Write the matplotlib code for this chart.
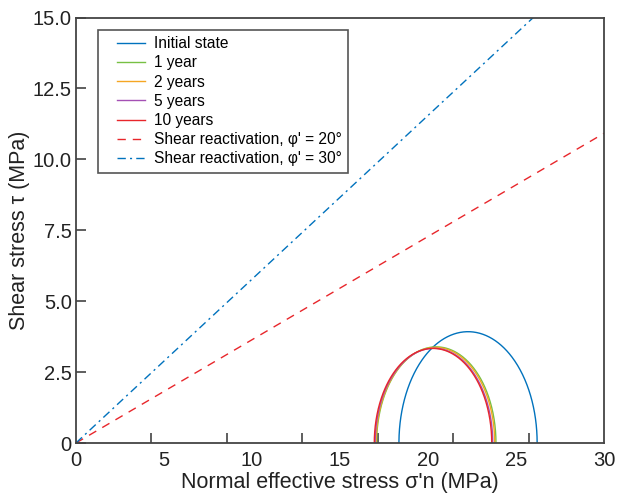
import numpy as np
import matplotlib
matplotlib.use("Agg")
import matplotlib.pyplot as plt
from matplotlib.lines import Line2D
from matplotlib.legend_handler import HandlerLine2D

plt.rcParams['font.family'] = ['Liberation Sans', 'DejaVu Sans']

# Mohr circle data (MPa): minor and major principal effective stresses
labels = ["Initial state", "1 year", "2 years", "5 years", "10 years"]
sigma3 = [18.35, 17.08, 17.05, 17.00, 16.95]
sigma1 = [26.20, 23.86, 23.79, 23.68, 23.62]
colors = ["#0072BD", "#77C043", "#F5A623", "#A450B4", "#E8262B"]

# Shear reactivation envelopes (friction angles, degrees)
phi_angles = [20, 30]
phi_colors = ["#E8262B", "#0072BD"]
phi_styles = [(0, (6, 5)), (0, (6, 3, 1.5, 3))]

xticklabels = ["0", "5", "10", "15", "20", "25", "30"]
yticklabels = ["0", "2.5", "5.0", "7.5", "10.0", "12.5", "15.0"]

fig = plt.figure(figsize=(6.17, 4.95), dpi=100)
ax = fig.add_axes([0.123, 0.105, 0.856, 0.8596])

theta = np.linspace(0, np.pi, 400)
for lab, s3, s1, c in zip(labels, sigma3, sigma1, colors):
    cen = (s1 + s3) / 2
    r = (s1 - s3) / 2
    ax.plot(cen + r * np.cos(theta), r * np.sin(theta), color=c, lw=1.0, label=lab)

xs = np.array([0, 30])
for phi, c, ls in zip(phi_angles, phi_colors, phi_styles):
    ax.plot(xs, np.tan(np.radians(phi)) * xs, color=c, lw=1.0, linestyle=ls,
            label="Shear reactivation, \u03c6' = %d\u00b0" % phi)

ax.set_xlim(0, 30)
ax.set_ylim(0, 15)

ax.set_xticks(np.arange(0, 31, 5))
ax.set_xticklabels(xticklabels)
ax.set_xticks(np.linspace(0, 30, 8), minor=True)
ax.tick_params(axis='x', which='major', length=0, labelsize=14.5, pad=6, colors='#222222')
ax.tick_params(axis='x', which='minor', length=7, width=1.1, direction='in', color='#333333')

ax.set_yticks(np.arange(0, 15.1, 2.5))
ax.set_yticklabels(yticklabels)
ax.tick_params(axis='y', which='major', length=7, width=1.1, direction='in',
               labelsize=14.5, pad=3, color='#333333', labelcolor='#222222')

for sp in ax.spines.values():
    sp.set_color('#444444')
    sp.set_linewidth(1.3)

ax.set_xlabel("Normal effective stress \u03c3'n (MPa)", fontsize=15.5, color='#222222', labelpad=1)
ax.set_ylabel("Shear stress \u03c4 (MPa)", fontsize=15.5, color='#222222', labelpad=2)

leg = ax.legend(loc='upper left', bbox_to_anchor=(0.0417, 0.9706), fontsize=11.2,
                frameon=True, fancybox=False, edgecolor='#555555', framealpha=1,
                handlelength=2.6, labelspacing=0.27, borderpad=0.4, handletextpad=0.6,
                borderaxespad=0,
                handler_map={Line2D: HandlerLine2D(xpad=0.8)})
leg.get_frame().set_linewidth(1.2)

fig.savefig("out.png", dpi=100)
